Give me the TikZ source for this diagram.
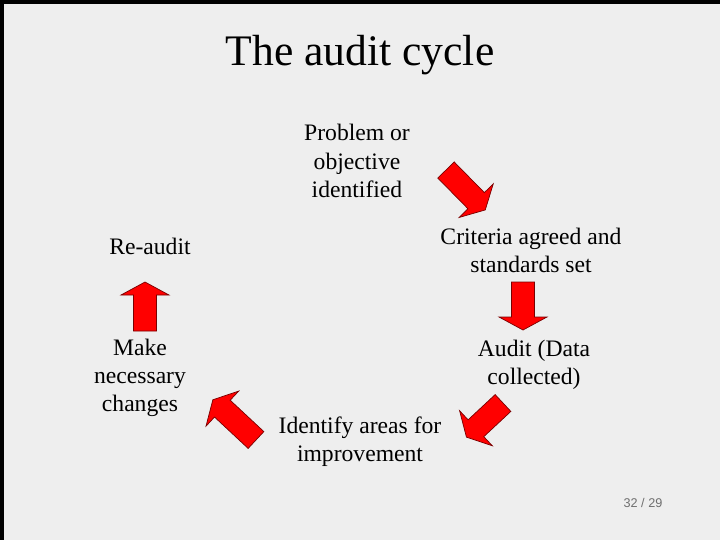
\documentclass[tikz,border=0pt]{standalone}
\usepackage{fontspec}
\setmainfont{Liberation Serif}
\setsansfont{Liberation Sans}
\usepackage{tikz}
\usetikzlibrary{positioning}
\definecolor{Bgrey}{RGB}{238, 238, 238}
\definecolor{Ared}{RGB}{255, 0, 0}
\definecolor{Adark}{RGB}{120, 0, 0}
\definecolor{Pgrey}{RGB}{110, 110, 110}
\tikzset{
    slidebg/.style={fill=Bgrey, draw=none},
    slideedge/.style={draw=black, line width=3pt},
    title/.style={font=\fontsize{31}{36}\selectfont, text=black},
    stage/.style={align=center, font=\fontsize{16.8}{20}\selectfont, text=black, inner sep=0pt},
    redarrow/.style={fill=Ared, draw=Adark, line width=0.5pt, line join=miter},
    pagenum/.style={font=\sffamily\fontsize{9}{10}\selectfont, text=Pgrey},
}
% block arrow: tail point, angle, length
\newcommand{\cyclearrow}[3]{%
    \draw [redarrow, shift={#1}, rotate=#2]
        (0,-11.5) -- (#3-13,-11.5) -- (#3-13,-24) -- (#3,0)
        -- (#3-13,24) -- (#3-13,11.5) -- (0,11.5) -- cycle;}

\begin{document}
\begin{tikzpicture}[x=0.025cm, y=-0.025cm]

    % ── 背景 ─────────────────────────────────────────
    \useasboundingbox (0,0) rectangle (720,540);
    \fill [slidebg] (0,0) rectangle (720,540);
    \draw [slideedge] (1.5,540) -- (1.5,1.5) -- (720,1.5);

    % ── 标题 ─────────────────────────────────────────
    \node [title] (head) at (360,55) {The audit cycle};

    % ── 循环各阶段 ───────────────────────────────────
    \node [stage] (problem) at (357,161) {Problem or\\objective\\identified};
    \node [stage] (criteria) at (531,250) {Criteria agreed and\\standards set};
    \node [stage] (audit) at (534,365) {Audit (Data\\collected)};
    \node [stage] (improve) at (360,442) {Identify areas for\\improvement};
    \node [stage] (changes) at (140,378) {Make\\necessary\\changes};
    \node [stage] (reaudit) at (150,246) {Re-audit};

    % ── 箭头 ─────────────────────────────────────────
    \cyclearrow{(446,170)}{-45.5}{56}
    \cyclearrow{(523,282)}{-90}{48}
    \cyclearrow{(503,403)}{-137}{50}
    \cyclearrow{(256,440)}{137}{59}
    \cyclearrow{(145,331)}{90}{49}

    % ── 页码 ─────────────────────────────────────────
    \node [pagenum] (page) at (643,503) {32 / 29};

\end{tikzpicture}
\end{document}
